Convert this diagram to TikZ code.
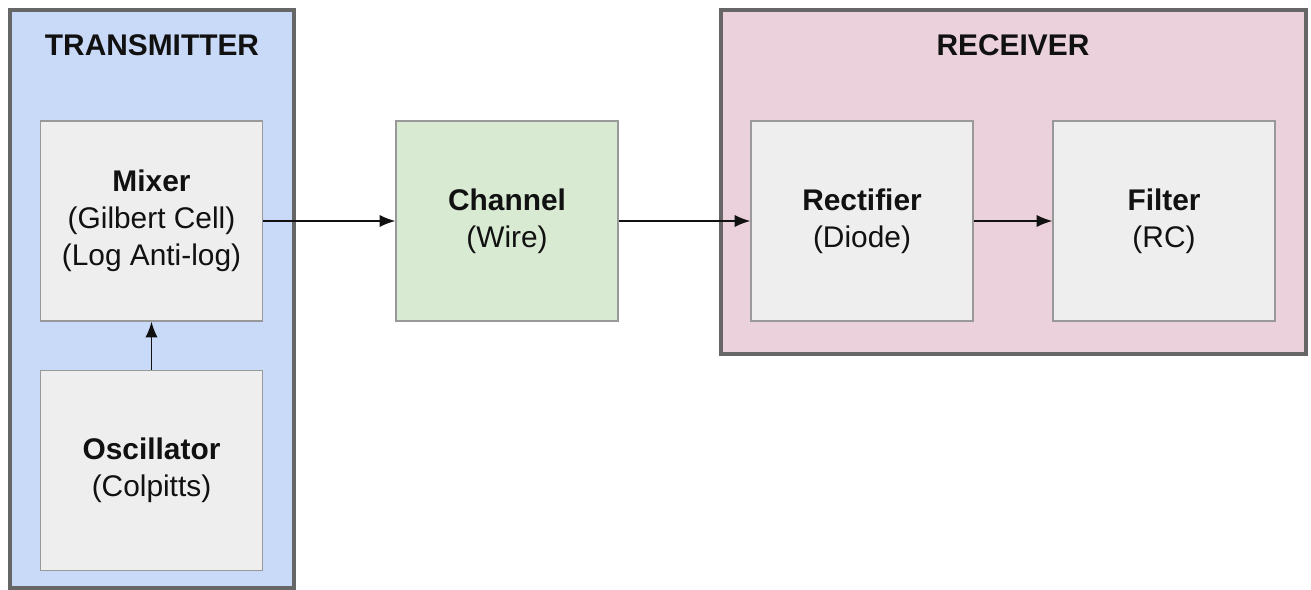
\documentclass[tikz,border=0pt]{standalone}
\usepackage{fontspec}
\setmainfont{Liberation Sans}
\usetikzlibrary{arrows.meta,positioning}
\definecolor{TxBlue}{HTML}{C9DAF8}
\definecolor{RxPink}{HTML}{EAD1DC}
\definecolor{ChGreen}{HTML}{D9EAD3}
\definecolor{BlockGrey}{HTML}{EEEEEE}
\definecolor{EdgeGrey}{HTML}{999999}
\definecolor{FrameGrey}{HTML}{666666}
\definecolor{Ink}{HTML}{111111}

\begin{document}
\begin{tikzpicture}[x=0.02cm,y=-0.02cm,
  group/.style={draw=FrameGrey,line width=1.8pt,inner sep=0pt},
  title/.style={font=\fontsize{17}{21}\selectfont\bfseries,text=Ink},
  block/.style={draw=EdgeGrey,line width=0.8pt,fill=BlockGrey,minimum width=4.44cm,minimum height=4cm,
    align=center,font=\fontsize{17}{21}\selectfont,text=Ink,inner sep=0pt},
  flow/.style={-{Latex[length=9pt,width=7pt]},draw=Ink,line width=0.8pt}
]
\useasboundingbox (0,0) rectangle (1311,590);

% group frames
\draw[group,fill=TxBlue] (10,10) rectangle (294,588);
\draw[group,fill=RxPink] (721,10) rectangle (1306,354);
\node[title] (txtitle) at (152,45) {TRANSMITTER};
\node[title] (rxtitle) at (1013,45) {RECEIVER};

% blocks
\node[block] (mixer) at (151.5,221) {\textbf{Mixer}\\(Gilbert Cell)\\(Log Anti-log)};
\node[block] (osc) at (151.5,470.5) {\textbf{Oscillator}\\(Colpitts)};
\node[block,fill=ChGreen] (channel) at (507,221) {\textbf{Channel}\\(Wire)};
\node[block] (rect) at (862,221) {\textbf{Rectifier}\\(Diode)};
\node[block] (filt) at (1164,221) {\textbf{Filter}\\(RC)};

% signal path
\draw[flow] (osc) -- (mixer);
\draw[flow] (mixer) -- (channel);
\draw[flow] (channel) -- (rect);
\draw[flow] (rect) -- (filt);
\end{tikzpicture}
\end{document}
